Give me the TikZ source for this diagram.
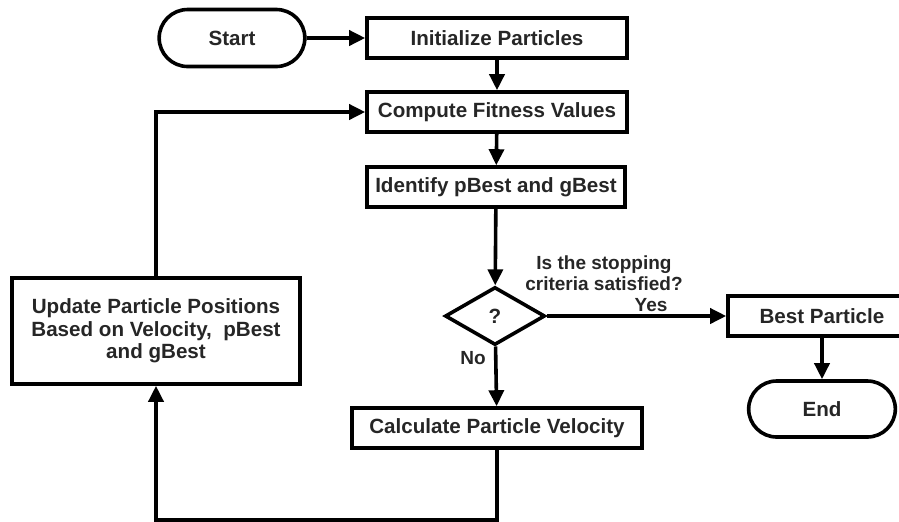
\documentclass[tikz,border=0pt]{standalone}
\usepackage{fontspec}
\setmainfont{Liberation Sans}
\usetikzlibrary{arrows.meta}
\usetikzlibrary{shapes}
\tikzset{
	every path/.style={line width=1.8pt},
	align=center,
	every node/.style={
		font=\fontsize{10.3}{11.3}\selectfont\bfseries,
		text=black!85,
	},
	process/.style={
		draw,
		rectangle,
		minimum height=20pt,
	},
	terminal/.style={
		draw,
		rounded rectangle,
		minimum height=28.5pt,
	},
	decision/.style={
		draw,
		diamond,
		minimum width=50pt,
		minimum height=29pt,
		inner sep=0pt,
	},
	flow/.style={
		-{Triangle[length=8pt,width=7.5pt]}
	},
	lbl/.style={
		font=\fontsize{9.5}{10.5}\selectfont\bfseries,
	},
}
\begin{document}
\begin{tikzpicture}[x=0.5pt,y=-0.5pt]
		\useasboundingbox (0,0) rectangle (899,521);

		\node[terminal, minimum width=79.5pt] (start) at (232,38) {Start};
		\node[process, minimum width=130pt] (init) at (497,38) {Initialize Particles};
		\node[process, minimum width=130pt] (fitness) at (497,112) {Compute Fitness Values};
		\node[process, minimum width=129pt] (identify) at (496,187) {Identify pBest and gBest};
		\node[decision] (stopping) at (495,316) {?};
		\node[process, minimum width=94pt] (best) at (822,316) {Best Particle};
		\node[terminal, minimum width=80pt, minimum height=28pt] (finish) at (822,409) {End};
		\node[process, minimum width=145pt] (velocity) at (497,428) {Calculate Particle Velocity};
		\node[process, minimum width=144pt, minimum height=53pt] (update) at (156,331)
			{Update Particle Positions\\Based on Velocity,~~pBest\\and gBest};

		\node[lbl] (criteria) at (604,273) {Is the stopping\\criteria satisfied?};
		\node[lbl] (yes) at (651,305) {Yes};
		\node[lbl] (no) at (473,358) {No};

		\draw[flow] (start) -- (init);
		\draw[flow] (init) -- (fitness);
		\draw[flow] (fitness) -- (identify);
		\draw[flow] (identify) -- (stopping);
		\draw[flow] (stopping) -- (best);
		\draw[flow] (best) -- (finish);
		\draw[flow] (stopping) -- (velocity);
		\draw[flow] (velocity.south) -- ++(0,70) -| (update.south);
		\draw[flow] (update.north) |- (fitness.west);

	\end{tikzpicture}
\end{document}
